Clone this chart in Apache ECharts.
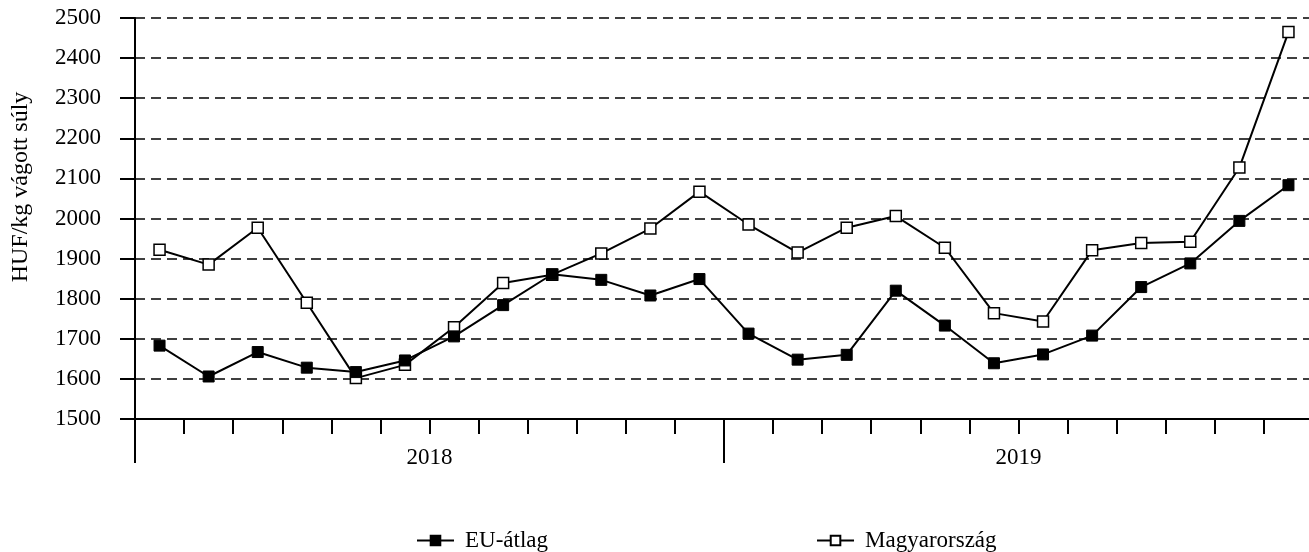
<!DOCTYPE html>
<html>
<head>
<meta charset="utf-8">
<script src="https://cdn.jsdelivr.net/npm/echarts@6.0.0/dist/echarts.min.js"></script>
<style>html,body{margin:0;padding:0;background:#fff;}#chart{width:1309px;height:552px;}</style>
</head>
<body>
<div id="chart"></div>
<script>
const months = ['2018-01','2018-02','2018-03','2018-04','2018-05','2018-06','2018-07','2018-08','2018-09','2018-10','2018-11','2018-12',
                '2019-01','2019-02','2019-03','2019-04','2019-05','2019-06','2019-07','2019-08','2019-09','2019-10','2019-11','2019-12'];
const years = ['2018', '2019'];
const euAtlag = [1683,1606,1667,1628,1617,1646,1706,1784,1861,1847,1808,1849,1713,1648,1660,1820,1733,1639,1661,1708,1829,1888,1994,2083];
const magyarorszag = [1922,1885,1977,1790,1602,1635,1729,1839,1860,1913,1975,2067,1985,1915,1977,2006,1927,1764,1743,1921,1939,1942,2127,2465];
const yAxisTitle = 'HUF/kg vágott súly';

const FONT = "'Liberation Serif', 'Times New Roman', serif";
const chart = echarts.init(document.getElementById('chart'));
chart.setOption({
  animation: false,
  backgroundColor: '#fff',
  textStyle: { fontFamily: FONT, color: '#000' },
  grid: { left: 135, right: -4, top: 18, bottom: 133, containLabel: false, outerBoundsMode: 'none' },
  legend: {
    data: ['EU-átlag', 'Magyarország'],
    top: 524, left: 411,
    itemGap: 268, itemWidth: 37, itemHeight: 12,
    textStyle: { fontFamily: FONT, fontSize: 23, color: '#000', padding: [0, 0, 0, 6] }
  },
  graphic: [{
    type: 'text', x: 21, y: 187, rotation: Math.PI / 2,
    style: { text: yAxisTitle, fontFamily: FONT, fontSize: 24, fill: '#000', align: 'center', verticalAlign: 'middle' }
  }],
  xAxis: [{
    type: 'category', data: months, boundaryGap: true,
    axisLine: { show: true, lineStyle: { color: '#000', width: 2 } },
    axisTick: { show: true, interval: 0, length: 15, lineStyle: { color: '#000', width: 2 } },
    axisLabel: { show: false }, splitLine: { show: false }
  }, {
    type: 'category', data: years, position: 'bottom', boundaryGap: true,
    axisLine: { show: false },
    axisTick: { show: true, interval: 0, length: 44, lineStyle: { color: '#000', width: 2 } },
    axisLabel: { show: true, interval: 0, margin: 27, fontFamily: FONT, fontSize: 23, color: '#000' },
    splitLine: { show: false }
  }],
  yAxis: {
    type: 'value', min: 1500, max: 2500, interval: 100,
    axisLine: { show: true, lineStyle: { color: '#000', width: 2 } },
    axisTick: { show: true, length: 15, lineStyle: { color: '#000', width: 2 } },
    axisLabel: { margin: 34, fontFamily: FONT, fontSize: 23, color: '#000', formatter: function (v) { return String(v); } },
    splitLine: { show: true, lineStyle: { color: '#000', width: 1.5, type: [10, 6] } }
  },
  series: [{
    name: 'EU-átlag', type: 'line', data: euAtlag, z: 4,
    symbol: 'rect', symbolSize: 11,
    lineStyle: { color: '#000', width: 2 },
    itemStyle: { color: '#000', borderColor: '#000', borderWidth: 1 }
  }, {
    name: 'Magyarország', type: 'line', data: magyarorszag, z: 3,
    symbol: 'rect', symbolSize: 11,
    lineStyle: { color: '#000', width: 2 },
    itemStyle: { color: '#fff', borderColor: '#000', borderWidth: 1.5 }
  }]
});
</script>
</body>
</html>
